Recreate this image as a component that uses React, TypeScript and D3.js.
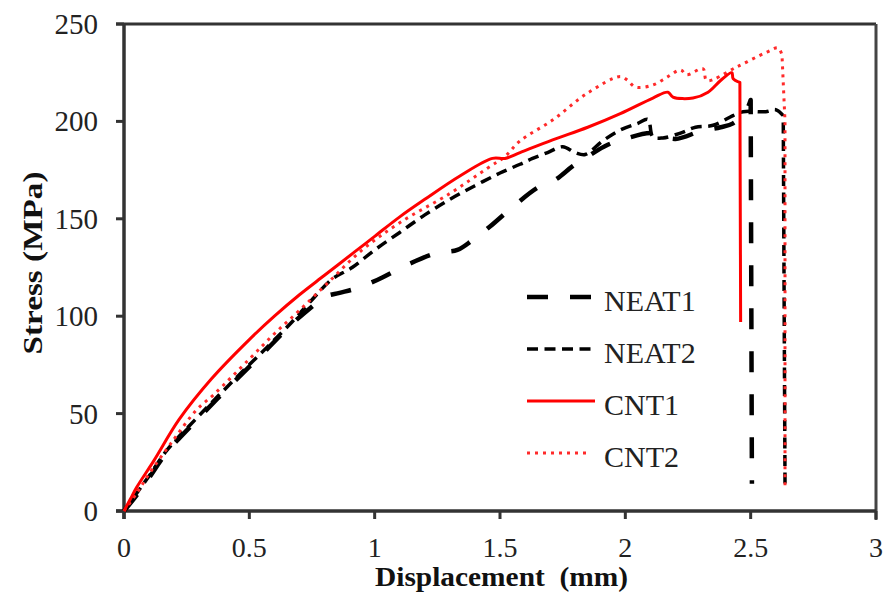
import React from "react";
import * as d3 from "d3";

const X_TICKS = [0, 0.5, 1, 1.5, 2, 2.5, 3];
const X_TICK_LABELS = ["0", "0.5", "1", "1.5", "2", "2.5", "3"];
const Y_TICKS = [0, 50, 100, 150, 200, 250];
const Y_TICK_LABELS = ["0", "50", "100", "150", "200", "250"];

const NEAT1_X = [0, 0.05, 0.1, 0.17, 0.3, 0.46, 0.57, 0.67, 0.76, 0.8, 0.86, 0.92, 1.01, 1.14, 1.25, 1.33, 1.39, 1.46, 1.55, 1.65, 1.72, 1.79, 1.85, 1.93, 2.0, 2.1, 2.2, 2.3, 2.38, 2.43, 2.48, 2.5, 2.505];
const NEAT1_Y = [0, 8, 17, 30, 48, 69, 83, 96, 106, 110, 112, 114, 118.6, 127, 132.5, 134, 139, 146, 156, 166, 170, 177, 182, 188, 191, 194, 191, 195, 197, 199, 205, 211, 14];

const NEAT2_X = [0, 0.05, 0.1, 0.17, 0.3, 0.46, 0.57, 0.67, 0.74, 0.83, 0.91, 1.0, 1.1, 1.2, 1.3, 1.4, 1.5, 1.58, 1.63, 1.69, 1.75, 1.8, 1.84, 1.91, 1.98, 2.05, 2.09, 2.11, 2.15, 2.22, 2.28, 2.35, 2.43, 2.47, 2.56, 2.6, 2.63, 2.637];
const NEAT2_Y = [0, 9, 18, 31, 49, 70, 84, 97, 107, 119, 125, 134, 143, 152, 160, 167, 173.5, 178, 181, 184, 187, 184, 183, 190, 195.6, 199, 201, 192, 191.5, 194, 197, 198, 203, 205, 205, 206, 203, 14];

const CNT1_X = [0, 0.025, 0.05, 0.12, 0.22, 0.35, 0.5, 0.6, 0.7, 0.8, 0.92, 1.0, 1.1, 1.2, 1.34, 1.47, 1.52, 1.58, 1.71, 1.85, 1.98, 2.11, 2.17, 2.19, 2.27, 2.33, 2.38, 2.425, 2.43, 2.457, 2.46];
const CNT1_Y = [0, 6, 12, 26, 47, 68, 88, 100, 111, 121, 133, 141, 151, 160, 172, 181, 181, 184, 190.5, 197, 204, 212, 215, 212.5, 212, 215, 221, 225, 222, 220, 97];

const CNT2_X = [0, 0.05, 0.1, 0.2, 0.29, 0.36, 0.5, 0.6, 0.7, 0.82, 0.95, 1.1, 1.3, 1.45, 1.52, 1.58, 1.71, 1.85, 1.98, 2.01, 2.04, 2.11, 2.17, 2.22, 2.245, 2.31, 2.325, 2.445, 2.565, 2.61, 2.625, 2.637, 2.637];
const CNT2_Y = [0, 9, 19, 37, 52, 60, 78, 91, 103, 118, 134, 148, 163, 176, 182, 190, 200.7, 214.6, 223, 221, 217.6, 218.7, 223, 226.4, 224, 227, 221, 228, 235.6, 237.7, 234, 200, 13];

const SERIES_NAMES = ["NEAT1", "NEAT2", "CNT1", "CNT2"];

const W = 883;
const H = 593;
const LEFT = 124;
const RIGHT = 876;
const TOP = 24;
const BOTTOM = 511;

const FONT = "'Liberation Serif', 'Times New Roman', serif";

export default function App() {
  const x = d3.scaleLinear().domain([0, 3]).range([LEFT, RIGHT]);
  const y = d3.scaleLinear().domain([0, 250]).range([BOTTOM, TOP]);
  const smooth = d3
    .line<[number, number]>()
    .x((d) => x(d[0]))
    .y((d) => y(d[1]))
    .curve(d3.curveCatmullRom.alpha(0.5));

  const zip = (xs: number[], ys: number[]) => xs.map((v, i) => [v, ys[i]] as [number, number]);

  // smooth body, straight final failure drop
  const pathFor = (pts: [number, number][], tail: number) => {
    const body = pts.slice(0, pts.length - tail);
    let d = smooth(body) || "";
    pts.slice(pts.length - tail).forEach((p) => {
      d += `L${x(p[0])},${y(p[1])}`;
    });
    return d;
  };

  const styles = [
    { stroke: "#000", width: 4.5, dash: "21,22" },
    { stroke: "#000", width: 3.5, dash: "11,6.5" },
    { stroke: "#ff0000", width: 3, dash: "none" },
    { stroke: "#ff2a2a", width: 3, dash: "3,5" },
  ];
  const data = [
    zip(NEAT1_X, NEAT1_Y),
    zip(NEAT2_X, NEAT2_Y),
    zip(CNT1_X, CNT1_Y),
    zip(CNT2_X, CNT2_Y),
  ];
  const tails = [1, 1, 1, 2];
  const drawOrder = [0, 1, 3, 2];

  const legendX0 = 527;
  const legendX1 = 595;
  const legendY = [297, 349, 401, 453];

  return (
    <svg
      width={W}
      height={H}
      style={{ position: "absolute", left: 0, top: 0, background: "#fff" }}
    >
      <rect x={0} y={0} width={W} height={H} fill="#fff" />
      {/* frame */}
      <line x1={116} x2={RIGHT} y1={TOP} y2={TOP} stroke="#333" strokeWidth={3} />
      <line x1={RIGHT} x2={RIGHT} y1={TOP} y2={520} stroke="#444" strokeWidth={3} />
      <line x1={LEFT} x2={LEFT} y1={TOP} y2={519} stroke="#333" strokeWidth={3.5} />
      <line x1={116} x2={RIGHT} y1={BOTTOM} y2={BOTTOM} stroke="#333" strokeWidth={3.5} />
      {Y_TICKS.map((t) => (
        <line key={"yt" + t} x1={116} x2={LEFT} y1={y(t)} y2={y(t)} stroke="#333" strokeWidth={3} />
      ))}
      {X_TICKS.map((t) => (
        <line key={"xt" + t} x1={x(t)} x2={x(t)} y1={BOTTOM} y2={519} stroke="#333" strokeWidth={3} />
      ))}
      {Y_TICK_LABELS.map((lab, i) => (
        <text
          key={"yl" + lab}
          x={98}
          y={y(Y_TICKS[i]) + 10}
          textAnchor="end"
          fontFamily={FONT}
          fontSize={29}
          fill="#222"
        >
          {lab}
        </text>
      ))}
      {X_TICK_LABELS.map((lab, i) => (
        <text
          key={"xl" + lab}
          x={x(X_TICKS[i])}
          y={557}
          textAnchor="middle"
          fontFamily={FONT}
          fontSize={28}
          fill="#222"
        >
          {lab}
        </text>
      ))}
      {/* axis titles */}
      <text
        x={375}
        y={586}
        fontFamily={FONT}
        fontWeight="bold"
        fontSize={27}
        fill="#111"
        textLength={253}
        lengthAdjust="spacingAndGlyphs"
        style={{ whiteSpace: "pre" }}
      >
        {"Displacement  (mm)"}
      </text>
      <text
        transform="translate(42,263) rotate(-90)"
        x={0}
        y={0}
        textAnchor="middle"
        fontFamily={FONT}
        fontWeight="bold"
        fontSize={28}
        fill="#111"
        textLength={183}
        lengthAdjust="spacingAndGlyphs"
      >
        Stress (MPa)
      </text>
      {/* series */}
      {drawOrder.map((i) => (
        <path
          key={"s" + i}
          d={pathFor(data[i], tails[i])}
          fill="none"
          stroke={styles[i].stroke}
          strokeWidth={styles[i].width}
          strokeDasharray={styles[i].dash}
          strokeLinejoin="round"
        />
      ))}
      {/* legend */}
      {SERIES_NAMES.map((name, i) => (
        <g key={"lg" + name}>
          <line
            x1={legendX0}
            x2={i === 3 ? 589 : legendX1}
            y1={legendY[i]}
            y2={legendY[i]}
            stroke={styles[i].stroke}
            strokeWidth={styles[i].width}
            strokeDasharray={styles[i].dash}
          />
          <text
            x={604}
            y={legendY[i] + 14}
            fontFamily={FONT}
            fontSize={30}
            fill="#222"
          >
            {name}
          </text>
        </g>
      ))}
    </svg>
  );
}
